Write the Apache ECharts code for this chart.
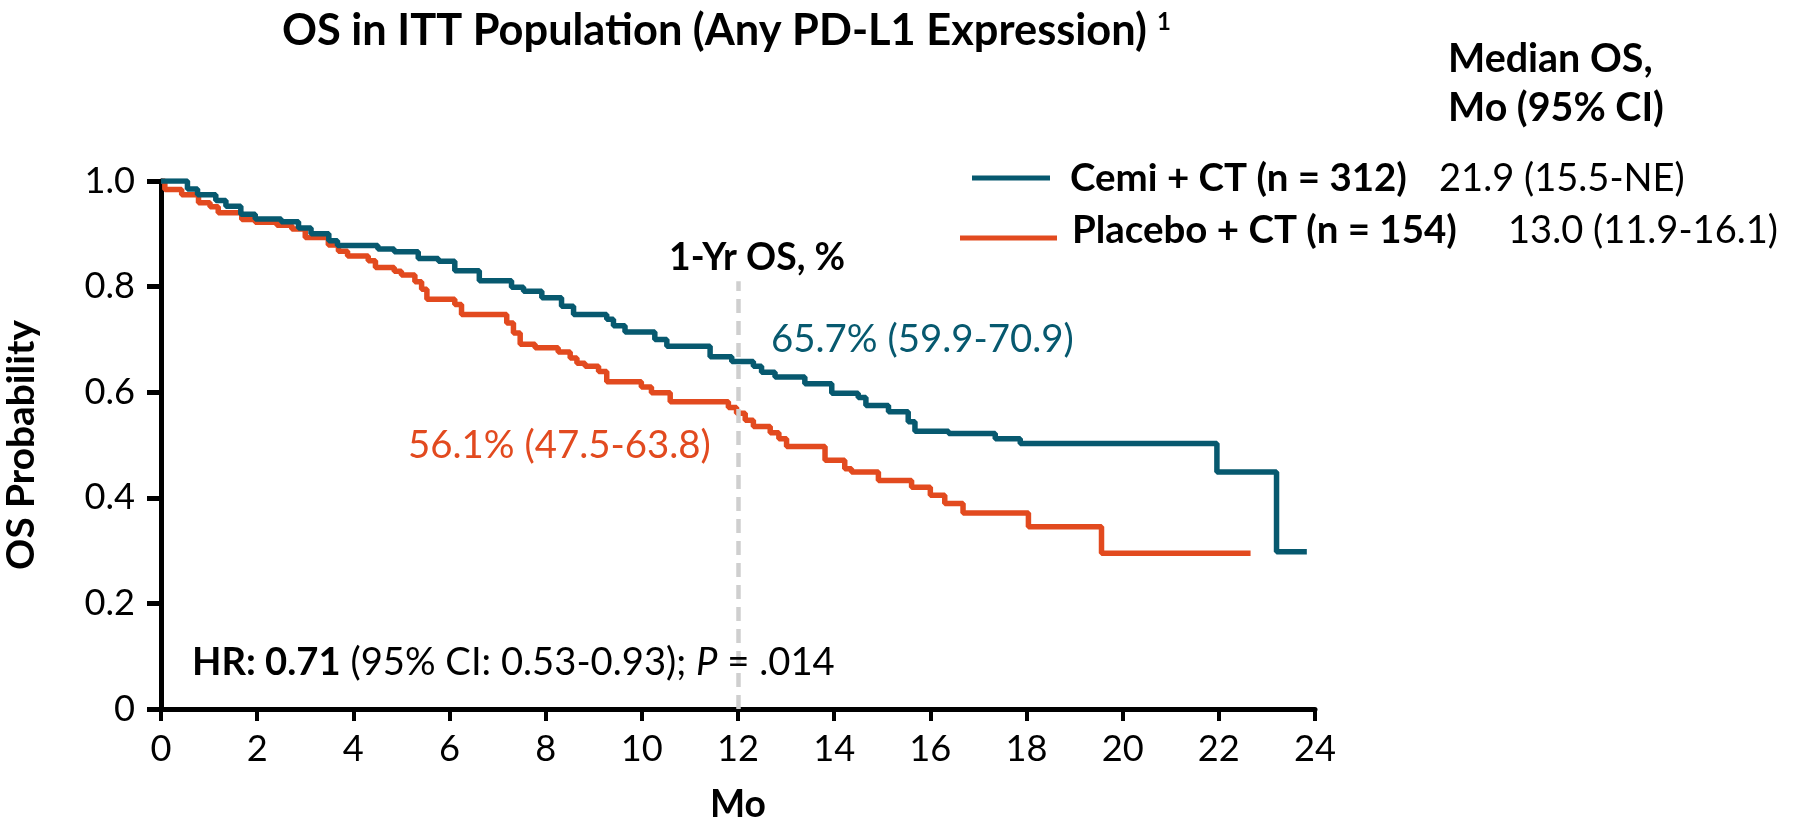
<!DOCTYPE html>
<html>
<head>
<meta charset="utf-8">
<script src="https://cdn.jsdelivr.net/npm/echarts@6/dist/echarts.min.js"></script>
<style>
html,body{margin:0;padding:0;background:#fff;overflow:hidden;}
#chart{width:1804px;height:819px;}
</style>
</head>
<body>
<div id="chart"></div>
<script>
// ---- Data ----
const cemiMonths = [0, 0.55, 0.76, 1.14, 1.35, 1.66, 1.96, 2.50, 2.86, 3.12, 3.49, 3.67, 4.51, 4.85, 5.35, 5.77, 6.11, 6.62, 7.29, 7.54, 7.92, 8.33, 8.58, 9.27, 9.41, 9.65, 10.27, 10.52, 11.42, 11.87, 12.32, 12.49, 12.77, 13.39, 13.95, 14.50, 14.66, 15.13, 15.54, 15.68, 16.38, 17.35, 17.87, 21.96, 23.20, 23.83];
const cemiSurv   = [1.0, 0.985, 0.974, 0.963, 0.952, 0.937, 0.928, 0.923, 0.911, 0.900, 0.887, 0.878, 0.871, 0.866, 0.853, 0.848, 0.830, 0.811, 0.799, 0.791, 0.779, 0.763, 0.747, 0.738, 0.726, 0.714, 0.700, 0.687, 0.667, 0.658, 0.649, 0.638, 0.629, 0.616, 0.598, 0.590, 0.575, 0.563, 0.544, 0.526, 0.522, 0.512, 0.503, 0.449, 0.298, 0.298];
const placeboMonths = [0, 0.08, 0.43, 0.78, 1.02, 1.19, 1.68, 1.96, 2.41, 2.72, 3.00, 3.48, 3.69, 3.88, 4.31, 4.46, 4.85, 5.00, 5.28, 5.42, 5.53, 6.11, 6.25, 7.19, 7.33, 7.47, 7.78, 8.26, 8.51, 8.65, 8.82, 9.10, 9.27, 9.99, 10.20, 10.59, 11.80, 11.97, 12.15, 12.32, 12.67, 12.85, 13.01, 13.81, 14.22, 14.36, 14.92, 15.61, 16.00, 16.30, 16.68, 18.04, 19.56, 22.66];
const placeboSurv   = [1.0, 0.984, 0.974, 0.959, 0.951, 0.940, 0.927, 0.922, 0.916, 0.909, 0.893, 0.879, 0.867, 0.858, 0.849, 0.836, 0.829, 0.822, 0.809, 0.795, 0.776, 0.766, 0.747, 0.731, 0.712, 0.691, 0.684, 0.676, 0.665, 0.655, 0.649, 0.639, 0.620, 0.610, 0.599, 0.582, 0.571, 0.560, 0.547, 0.535, 0.523, 0.512, 0.497, 0.471, 0.455, 0.449, 0.433, 0.420, 0.405, 0.389, 0.371, 0.345, 0.295, 0.295];
const landmarkMonth = 12;
const landmarkTop = 0.81;
const titleText = 'OS in ITT Population (Any PD-L1 Expression)';
const titleSup = '1';
const medianHeader = ['Median OS,', 'Mo (95% CI)'];
const seriesNames = ['Cemi + CT (n = 312)', 'Placebo + CT (n = 154)'];
const medianTexts = ['21.9 (15.5-NE)', '13.0 (11.9-16.1)'];
const oneYearHeader = '1-Yr OS, %';
const oneYearTexts = ['65.7% (59.9-70.9)', '56.1% (47.5-63.8)'];
const hrParts = ['HR: 0.71', ' (95% CI: 0.53-0.93); ', 'P', ' = .014'];

// ---- Style ----
const TEAL = '#07596f';
const ORANGE = '#e24a1f';
const FAM = 'Lato';
const FONT = 'Lato, "Open Sans", sans-serif';

// font-size fitting to the widths measured on the reference
const mctx = document.createElement('canvas').getContext('2d');
function w100(text, weight, style) {
  mctx.font = (style || 'normal') + ' ' + (weight || 'normal') + ' 100px ' + FAM;
  return mctx.measureText(text).width;
}
function fit(text, weight, target, style) { return 100 * target / w100(text, weight, style); }

const sTitle = fit(titleText, 'bold', 865);
const sHead = (fit(medianHeader[0], 'bold', 198) + fit(medianHeader[1], 'bold', 223)) / 2;
const sLeg = (fit(seriesNames[0], 'bold', 337) + fit(seriesNames[1], 'bold', 385)) / 2;
const sVal = (fit(medianTexts[0], 'normal', 245) + fit(medianTexts[1], 'normal', 271)) / 2;
const s1yr = fit(oneYearHeader, 'bold', 176);
const sPct = (fit(oneYearTexts[0], 'normal', 303) + fit(oneYearTexts[1], 'normal', 303)) / 2;
const hrW = w100(hrParts[0], 'bold') + w100(hrParts[1], 'normal') + w100(hrParts[2], 'normal', 'italic') + w100(hrParts[3], 'normal');
const sHR = 100 * 643 / hrW;
const sTick = (fit('0.8', 'normal', 53) + fit('10', 'normal', 40)) / 2;
const sYName = fit('OS Probability', 'bold', 250);
const sXName = fit('Mo', 'bold', 56);

const chart = echarts.init(document.getElementById('chart'), null, {renderer: 'canvas'});

function txt(text, x, y, size, weight, fill) {
  return {
    type: 'text', x: x, y: y, silent: true, z: 20,
    style: {
      text: text, fontFamily: FONT, fontSize: size, fontWeight: weight,
      fill: fill, align: 'left', verticalAlign: 'middle'
    }
  };
}

const option = {
  backgroundColor: '#ffffff',
  animation: false,
  grid: {left: 161, right: 489, top: 181, bottom: 110, containLabel: false, outerBoundsMode: 'none'},
  xAxis: {
    type: 'value', min: 0, max: 24, interval: 2,
    name: 'Mo', nameLocation: 'middle', nameGap: 77,
    nameTextStyle: {fontFamily: FONT, fontSize: sXName, fontWeight: 'bold', color: '#000'},
    axisLine: {show: true, lineStyle: {color: '#000', width: 5}},
    axisTick: {show: true, length: 12, lineStyle: {color: '#000', width: 4}},
    axisLabel: {fontFamily: FONT, fontSize: sTick, color: '#000', margin: 22},
    splitLine: {show: false}
  },
  yAxis: {
    type: 'value', min: 0, max: 1, interval: 0.2,
    name: 'OS Probability', nameLocation: 'middle', nameGap: 120, nameRotate: 90,
    nameTextStyle: {fontFamily: FONT, fontSize: sYName, fontWeight: 'bold', color: '#000'},
    axisLine: {show: true, lineStyle: {color: '#000', width: 5}},
    axisTick: {show: true, length: 14, lineStyle: {color: '#000', width: 5}},
    axisLabel: {fontFamily: FONT, fontSize: sTick, color: '#000', margin: 26,
      formatter: function (v) { return v === 0 ? '0' : v.toFixed(1); }},
    splitLine: {show: false}
  },
  series: [
    {
      name: seriesNames[1], type: 'line', step: 'end', showSymbol: false, z: 3,
      lineStyle: {color: ORANGE, width: 5.5},
      data: placeboMonths.map((m, i) => [m, placeboSurv[i]])
    },
    {
      name: seriesNames[0], type: 'line', step: 'end', showSymbol: false, z: 4,
      lineStyle: {color: TEAL, width: 5.5},
      data: cemiMonths.map((m, i) => [m, cemiSurv[i]])
    },
    {
      name: 'landmark', type: 'line', data: [], z: 6,
      markLine: {
        silent: true, symbol: ['none', 'none'], label: {show: false},
        lineStyle: {color: '#cfcfcf', width: 4.5, type: [14, 8]},
        data: [[{coord: [landmarkMonth, 0]}, {coord: [landmarkMonth, landmarkTop]}]]
      }
    }
  ],
  graphic: [
    txt(titleText, 282, 31, sTitle, 'bold', '#000'),
    txt(titleSup, 1157, 22, 24, 'bold', '#000'),
    txt(medianHeader[0], 1448, 59, sHead, 'bold', '#000'),
    txt(medianHeader[1], 1448, 108, sHead, 'bold', '#000'),
    {type: 'line', silent: true, shape: {x1: 972, y1: 178, x2: 1050, y2: 178}, style: {stroke: TEAL, lineWidth: 5}},
    {type: 'line', silent: true, shape: {x1: 960, y1: 238, x2: 1057, y2: 238}, style: {stroke: ORANGE, lineWidth: 5}},
    txt(seriesNames[0], 1070, 179, sLeg, 'bold', '#000'),
    txt(medianTexts[0], 1439, 179, sVal, 'normal', '#000'),
    txt(seriesNames[1], 1072, 231, sLeg, 'bold', '#000'),
    txt(medianTexts[1], 1508, 231, sVal, 'normal', '#000'),
    txt(oneYearHeader, 669, 258, s1yr, 'bold', '#000'),
    txt(oneYearTexts[0], 771, 340, sPct, 'normal', TEAL),
    txt(oneYearTexts[1], 408, 446, sPct, 'normal', ORANGE),
    {
      type: 'text', x: 192, y: 663, silent: true, z: 20,
      style: {
        text: '{b|' + hrParts[0] + '}{r|' + hrParts[1] + '}{i|' + hrParts[2] + '}{r|' + hrParts[3] + '}',
        verticalAlign: 'middle', align: 'left',
        rich: {
          b: {fontFamily: FONT, fontSize: sHR, fontWeight: 'bold', fill: '#000'},
          r: {fontFamily: FONT, fontSize: sHR, fontWeight: 'normal', fill: '#000'},
          i: {fontFamily: FONT, fontSize: sHR, fontStyle: 'italic', fill: '#000'}
        }
      }
    }
  ]
};
chart.setOption(option);
</script>
</body>
</html>
